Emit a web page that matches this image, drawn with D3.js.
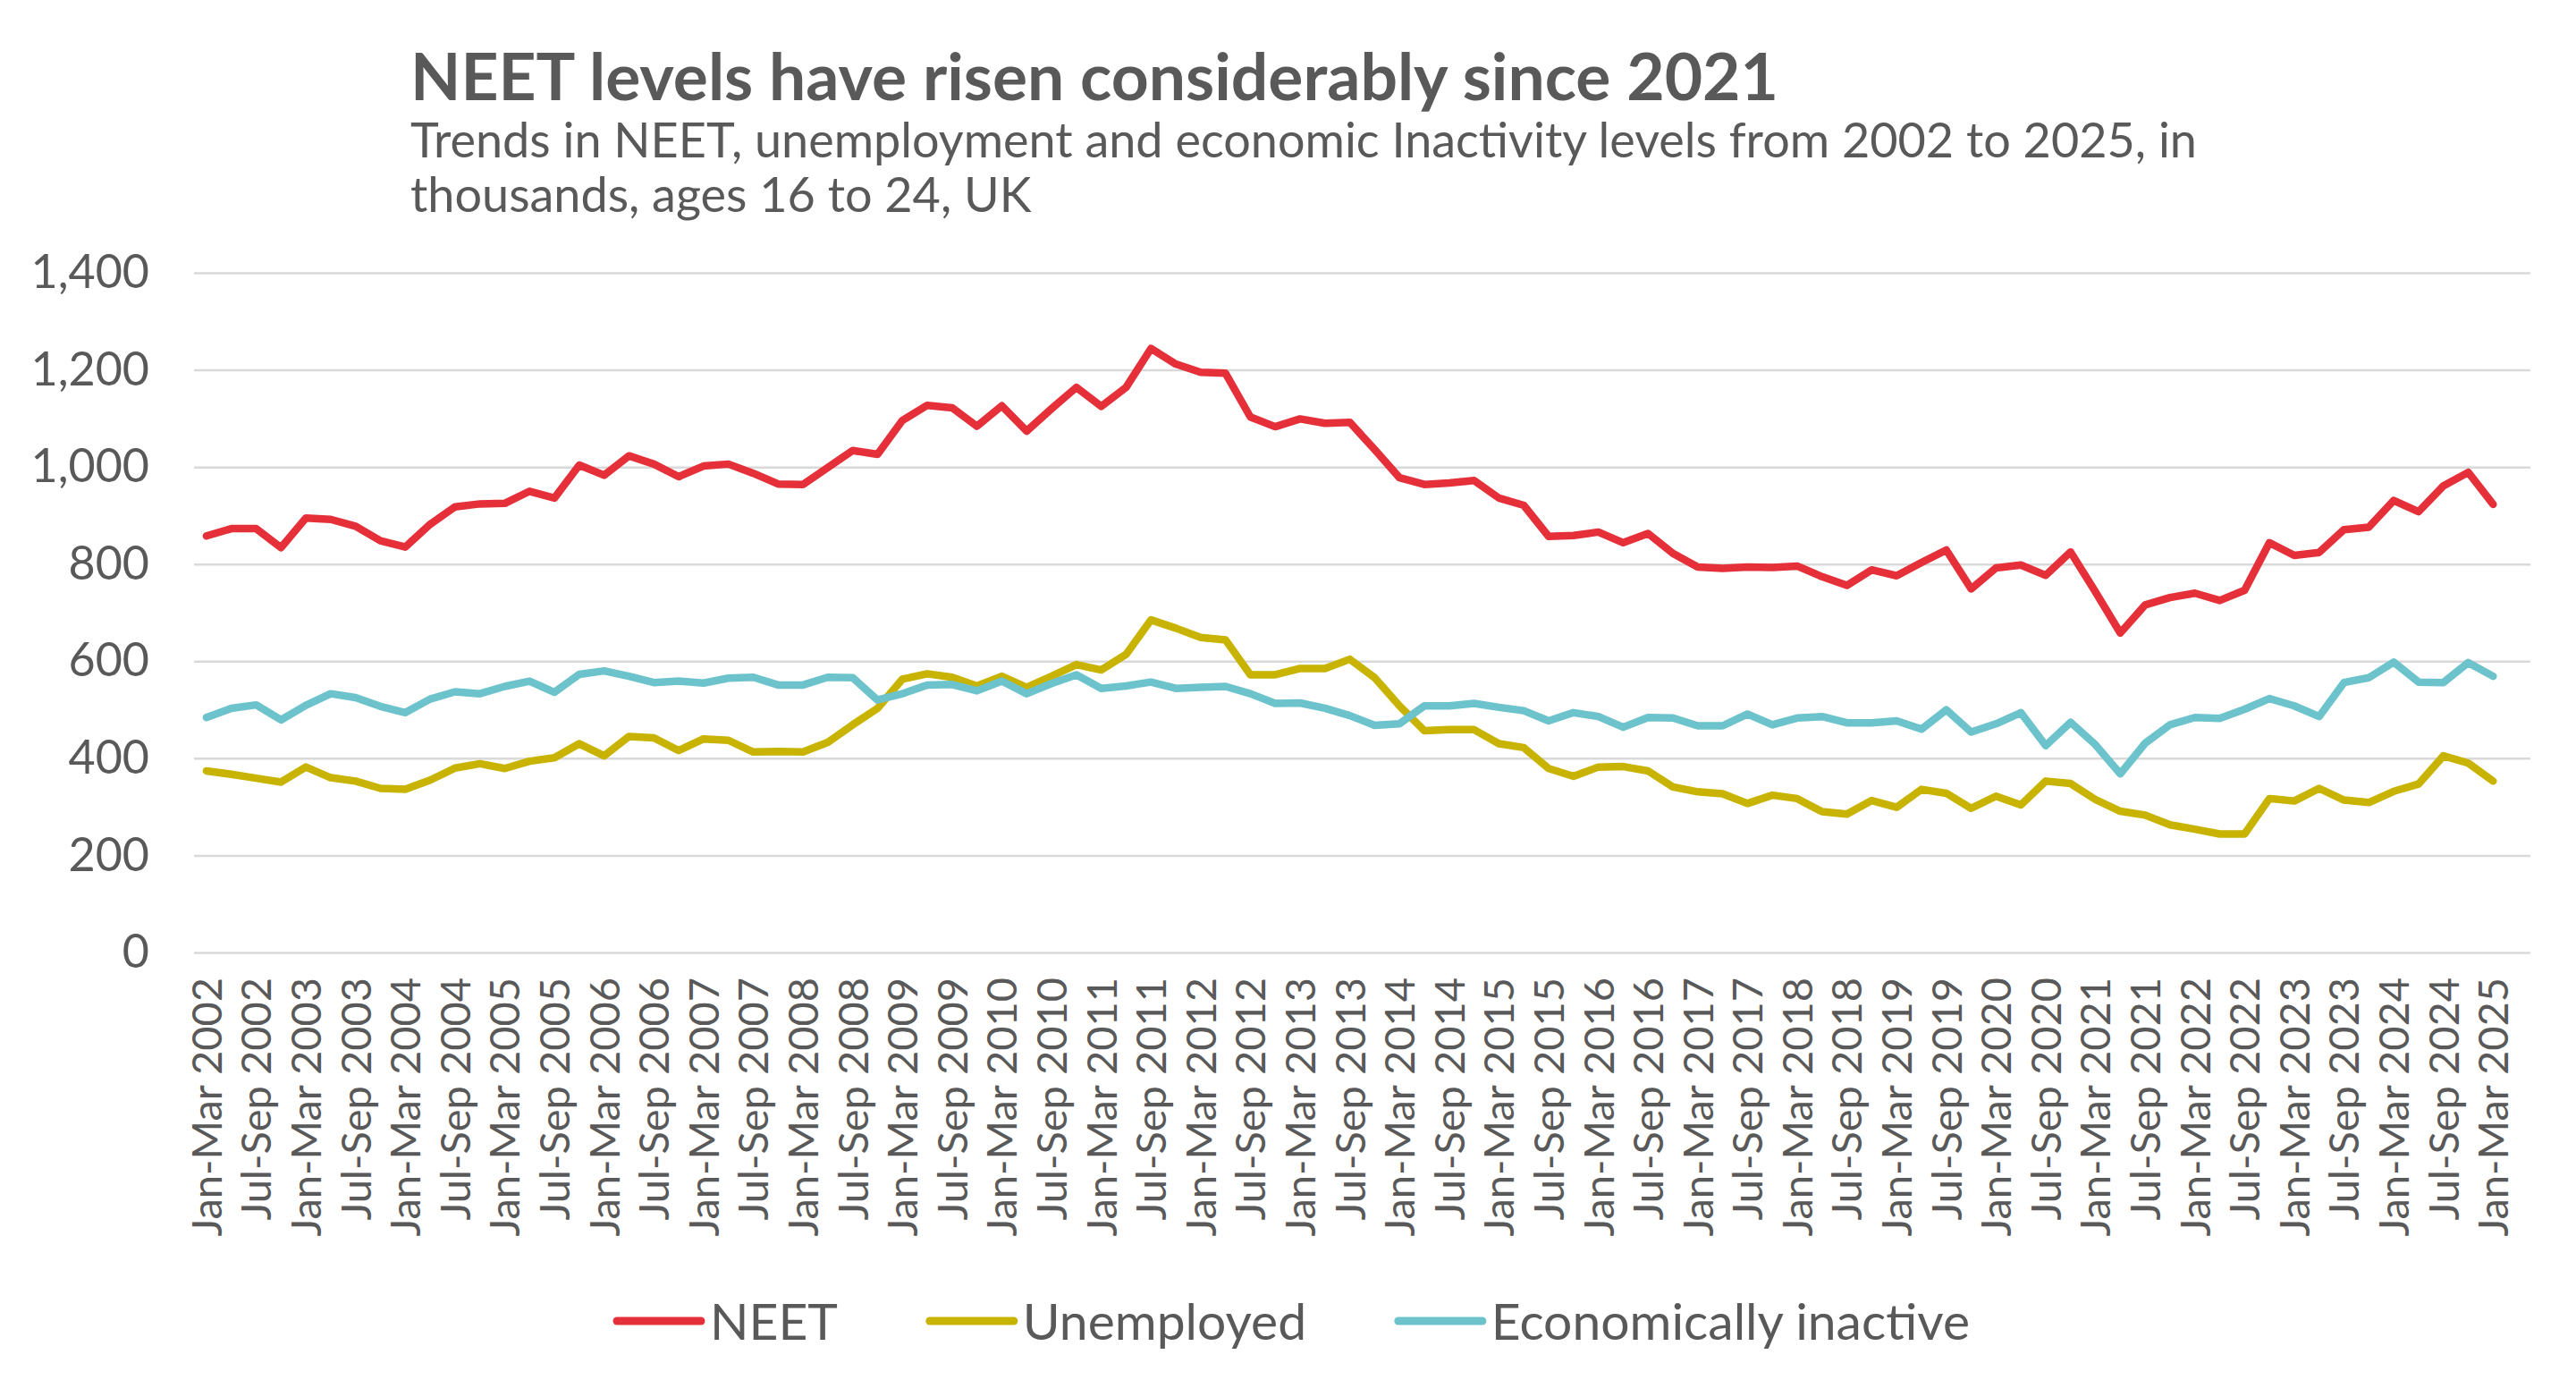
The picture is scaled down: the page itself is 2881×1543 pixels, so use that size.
<!DOCTYPE html>
<html>
<head>
<meta charset="utf-8">
<script src="https://cdn.jsdelivr.net/npm/d3@7/dist/d3.min.js"></script>
<style>
  body { margin: 0; background: #fff; }
  text { font-family: Lato, "Open Sans", sans-serif; fill: #595959; }
</style>
</head>
<body>
<svg id="chart" width="2881" height="1543"></svg>
<script>
// quarterly periods, the last one is an empty slot (Excel leaves it blank)
const categories = [
  "Jan-Mar 2002", "Apr-Jun 2002", "Jul-Sep 2002", "Oct-Dec 2002",
  "Jan-Mar 2003", "Apr-Jun 2003", "Jul-Sep 2003", "Oct-Dec 2003",
  "Jan-Mar 2004", "Apr-Jun 2004", "Jul-Sep 2004", "Oct-Dec 2004",
  "Jan-Mar 2005", "Apr-Jun 2005", "Jul-Sep 2005", "Oct-Dec 2005",
  "Jan-Mar 2006", "Apr-Jun 2006", "Jul-Sep 2006", "Oct-Dec 2006",
  "Jan-Mar 2007", "Apr-Jun 2007", "Jul-Sep 2007", "Oct-Dec 2007",
  "Jan-Mar 2008", "Apr-Jun 2008", "Jul-Sep 2008", "Oct-Dec 2008",
  "Jan-Mar 2009", "Apr-Jun 2009", "Jul-Sep 2009", "Oct-Dec 2009",
  "Jan-Mar 2010", "Apr-Jun 2010", "Jul-Sep 2010", "Oct-Dec 2010",
  "Jan-Mar 2011", "Apr-Jun 2011", "Jul-Sep 2011", "Oct-Dec 2011",
  "Jan-Mar 2012", "Apr-Jun 2012", "Jul-Sep 2012", "Oct-Dec 2012",
  "Jan-Mar 2013", "Apr-Jun 2013", "Jul-Sep 2013", "Oct-Dec 2013",
  "Jan-Mar 2014", "Apr-Jun 2014", "Jul-Sep 2014", "Oct-Dec 2014",
  "Jan-Mar 2015", "Apr-Jun 2015", "Jul-Sep 2015", "Oct-Dec 2015",
  "Jan-Mar 2016", "Apr-Jun 2016", "Jul-Sep 2016", "Oct-Dec 2016",
  "Jan-Mar 2017", "Apr-Jun 2017", "Jul-Sep 2017", "Oct-Dec 2017",
  "Jan-Mar 2018", "Apr-Jun 2018", "Jul-Sep 2018", "Oct-Dec 2018",
  "Jan-Mar 2019", "Apr-Jun 2019", "Jul-Sep 2019", "Oct-Dec 2019",
  "Jan-Mar 2020", "Apr-Jun 2020", "Jul-Sep 2020", "Oct-Dec 2020",
  "Jan-Mar 2021", "Apr-Jun 2021", "Jul-Sep 2021", "Oct-Dec 2021",
  "Jan-Mar 2022", "Apr-Jun 2022", "Jul-Sep 2022", "Oct-Dec 2022",
  "Jan-Mar 2023", "Apr-Jun 2023", "Jul-Sep 2023", "Oct-Dec 2023",
  "Jan-Mar 2024", "Apr-Jun 2024", "Jul-Sep 2024", "Oct-Dec 2024",
  "Jan-Mar 2025", "Apr-Jun 2025"
];

// thousands, ages 16-24
const neet = [
  858, 873, 873, 834, 895, 892, 878, 848, 835, 882, 918, 924, 925, 950, 936, 1004,
  983, 1023, 1006, 980, 1002, 1006, 987, 965, 964, 999, 1034, 1026, 1096, 1127, 1122, 1084,
  1126, 1074, 1120, 1164, 1125, 1164, 1244, 1212, 1195, 1193, 1103, 1083, 1099, 1090, 1092, 1036,
  978, 964, 967, 972, 936, 921, 857, 859, 866, 844, 863, 822, 794, 791, 794, 793,
  796, 774, 756, 788, 776, 803, 829, 749, 792, 798, 777, 825, 743, 658, 716, 731,
  740, 725, 746, 844, 818, 824, 871, 876, 931, 908, 961, 989, 923
];
const unemployed = [
  374, 367, 359, 351, 382, 360, 353, 338, 336, 355, 380, 389, 379, 394, 401, 430,
  405, 445, 442, 416, 440, 437, 413, 414, 413, 433, 469, 503, 563, 574, 567, 549,
  569, 546, 569, 593, 582, 614, 685, 668, 649, 644, 572, 572, 585, 585, 604, 566,
  508, 457, 459, 459, 430, 422, 379, 363, 382, 383, 374, 341, 331, 327, 307, 324,
  317, 290, 285, 313, 299, 336, 328, 297, 322, 304, 353, 348, 315, 291, 283, 263,
  254, 244, 244, 317, 312, 338, 314, 309, 332, 347, 405, 390, 353
];
const inactive = [
  484, 503, 510, 479, 509, 533, 525, 507, 494, 522, 537, 533, 548, 559, 536, 573,
  580, 569, 556, 559, 555, 565, 567, 551, 551, 567, 566, 520, 533, 551, 552, 539,
  559, 533, 554, 572, 544, 549, 557, 544, 546, 548, 533, 513, 514, 503, 488, 468,
  471, 508, 508, 513, 505, 498, 477, 494, 486, 464, 484, 483, 467, 467, 491, 469,
  483, 486, 473, 473, 477, 460, 500, 454, 471, 494, 426, 474, 428, 368, 431, 469,
  484, 482, 501, 523, 508, 486, 556, 566, 598, 557, 556, 597, 569
];

const yTicks = [0, 200, 400, 600, 800, 1000, 1200, 1400];
const seriesNames = ["NEET", "Unemployed", "Economically inactive"];
const seriesColors = ["#E5303A", "#C8B400", "#6CC3CB"];
const seriesValues = [neet, unemployed, inactive];

const titleText = "NEET levels have risen considerably since 2021";
const subtitleLines = [
  "Trends in NEET, unemployment and economic Inactivity levels from 2002 to 2025, in",
  "thousands, ages 16 to 24, UK"
];

const plot = { left: 217, right: 2830, top: 305, bottom: 1065 };

const svg = d3.select("#chart");

const x = d3.scaleBand().domain(categories).range([plot.left, plot.right]);
const y = d3.scaleLinear().domain([0, 1400]).range([plot.bottom, plot.top]);

// shrink/grow a text so it spans the width measured on the original
function fitWidth(sel, target) {
  const fs = parseFloat(sel.attr("font-size"));
  const w = sel.node().getComputedTextLength();
  sel.attr("font-size", (fs * target / w).toFixed(2));
  return fs * target / w;
}

// title + subtitle
const title = svg.append("text")
  .attr("x", 459).attr("y", 112)
  .attr("font-size", 64).attr("font-weight", "bold")
  .text(titleText);
fitWidth(title, 1530);

const sub1 = svg.append("text")
  .attr("x", 459).attr("y", 176)
  .attr("font-size", 48)
  .text(subtitleLines[0]);
const subSize = fitWidth(sub1, 1998);
svg.append("text")
  .attr("x", 459).attr("y", 237)
  .attr("font-size", subSize.toFixed(2))
  .text(subtitleLines[1]);

// y axis with gridlines
const yAxis = svg.append("g")
  .attr("transform", "translate(" + plot.left + ",0)")
  .call(d3.axisLeft(y).tickValues(yTicks).tickSize(-(plot.right - plot.left)).tickPadding(50).tickFormat(d3.format(",")));
yAxis.select(".domain").remove();
yAxis.selectAll(".tick line").attr("stroke", "#D9D9D9").attr("stroke-width", 2.5);
yAxis.selectAll(".tick text")
  .attr("font-size", 52)
  .attr("font-family", "Lato, sans-serif")
  .attr("fill", "#595959");

// x axis: every second quarter labelled, rotated
const xAxis = svg.append("g")
  .attr("transform", "translate(0," + plot.bottom + ")")
  .call(d3.axisBottom(x).tickValues(categories.filter((d, i) => i % 2 === 0 && i < neet.length)).tickSize(0));
xAxis.select(".domain").remove();
xAxis.selectAll(".tick text")
  .attr("font-size", 47)
  .attr("font-family", "Lato, sans-serif")
  .attr("fill", "#595959")
  .attr("transform", "rotate(-90)")
  .attr("text-anchor", "end")
  .attr("x", -28)
  .attr("y", 0)
  .attr("dy", "0.36em");

// lines
const line = d3.line()
  .defined(d => d != null)
  .x((d, i) => x(categories[i]) + x.bandwidth() / 2)
  .y(d => y(d));

svg.append("g").selectAll("path")
  .data(seriesValues)
  .enter()
  .append("path")
  .attr("d", line)
  .attr("fill", "none")
  .attr("stroke", (d, i) => seriesColors[i])
  .attr("stroke-width", 8.5)
  .attr("stroke-linejoin", "round")
  .attr("stroke-linecap", "round");

// legend, spread over the same span as the original (688 -> 2203)
const legendY = 1477;
const legendLeft = 690, legendRight = 2203;
const legend = svg.append("g");
const items = legend.selectAll("g")
  .data(seriesNames)
  .enter()
  .append("g");
items.append("line")
  .attr("x1", 0).attr("x2", 94)
  .attr("y1", legendY).attr("y2", legendY)
  .attr("stroke", (d, i) => seriesColors[i])
  .attr("stroke-width", 9)
  .attr("stroke-linecap", "round");
items.append("text")
  .attr("x", 104)
  .attr("y", legendY)
  .attr("dy", "0.36em")
  .attr("font-size", 57)
  .text(d => d);

const widths = [];
items.each(function () {
  widths.push(104 + d3.select(this).select("text").node().getComputedTextLength());
});
const gap = (legendRight - legendLeft - d3.sum(widths)) / (widths.length - 1);
let cursor = legendLeft;
items.each(function (d, i) {
  d3.select(this).attr("transform", "translate(" + cursor + ",0)");
  cursor += widths[i] + gap;
});
</script>
</body>
</html>
